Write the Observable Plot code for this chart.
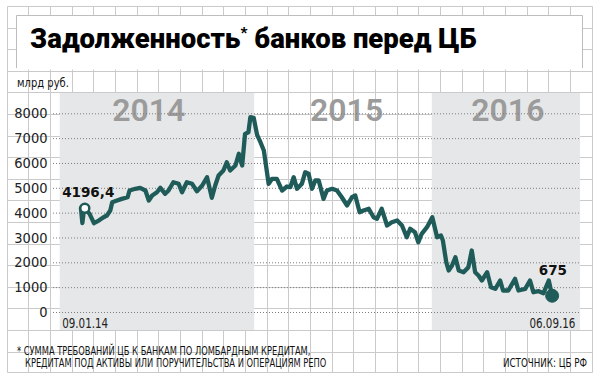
<!DOCTYPE html>
<html><head><meta charset="utf-8">
<script src="https://cdn.jsdelivr.net/npm/d3@7"></script>
<script src="https://cdn.jsdelivr.net/npm/@observablehq/plot@0.6"></script>
<style>
body{margin:0;background:#fff;}
#wrap{position:relative;width:600px;height:383px;overflow:hidden;background:#fff;}
#wrap > svg{position:absolute;left:0;top:0;}
</style>
</head><body>
<div id="wrap"></div>
<script>
// ---- data ----
const dates = ["2014-01-01","2014-01-04","2014-01-07","2014-01-09","2014-01-19","2014-01-28","2014-02-07","2014-02-17","2014-02-24","2014-03-03","2014-03-07","2014-03-17","2014-03-27","2014-04-08","2014-04-12","2014-04-24","2014-05-04","2014-05-15","2014-05-22","2014-05-29","2014-06-08","2014-06-15","2014-06-25","2014-07-02","2014-07-12","2014-07-23","2014-07-30","2014-08-09","2014-08-20","2014-08-30","2014-09-10","2014-09-16","2014-09-20","2014-09-30","2014-10-07","2014-10-14","2014-10-24","2014-10-31","2014-11-07","2014-11-18","2014-11-25","2014-12-02","2014-12-08","2014-12-15","2014-12-19","2014-12-26","2015-01-02","2015-01-09","2015-01-16","2015-01-21","2015-01-26","2015-02-02","2015-02-12","2015-02-23","2015-03-05","2015-03-12","2015-03-19","2015-03-26","2015-04-05","2015-04-12","2015-04-19","2015-04-26","2015-05-03","2015-05-10","2015-05-20","2015-05-27","2015-06-07","2015-06-17","2015-06-27","2015-07-08","2015-07-18","2015-07-25","2015-08-03","2015-08-11","2015-08-22","2015-09-01","2015-09-08","2015-09-18","2015-09-29","2015-10-09","2015-10-20","2015-10-30","2015-11-09","2015-11-16","2015-11-26","2015-12-03","2015-12-10","2015-12-21","2016-01-01","2016-01-11","2016-01-19","2016-01-23","2016-01-30","2016-02-04","2016-02-11","2016-02-18","2016-02-25","2016-03-06","2016-03-16","2016-03-23","2016-03-30","2016-04-06","2016-04-13","2016-04-24","2016-05-02","2016-05-11","2016-05-21","2016-05-27","2016-06-07","2016-06-21","2016-06-28","2016-07-12","2016-07-22","2016-07-29","2016-08-09","2016-08-19","2016-08-30","2016-09-06"];
const values = [4200,3600,4100,4196.4,3970,3595,3700,3836,3905,4106,4440,4509,4576,4641,4911,4980,5020,4911,4509,4710,4843,5020,4778,4911,5246,5181,4843,5246,5181,4883,5113,5314,5447,4618,5113,5515,5717,6051,5717,5918,6389,5918,7194,7259,7862,7838,7150,6856,6522,5850,5181,5382,5382,4911,5072,5045,5447,4980,5181,5648,5584,4980,5314,5314,4576,4911,4980,4911,4641,4307,4641,4710,4037,4106,4175,3836,3772,4175,3502,3636,3704,3502,3031,3370,3233,2830,3168,3434,3836,3031,3100,2898,2025,1691,1892,2226,1691,1622,1824,2496,1622,1490,1288,1622,1019,954,1288,886,886,1356,886,954,1288,817,857,777,1288,675];
const yTicks = [0,1000,2000,3000,4000,5000,6000,7000,8000];
const yearLabels = ["2014","2015","2016"];
const yearLabelDates = ["2014-05-22","2015-07-07","2016-06-06"];
const bandStart = ["2013-11-19","2016-01-01"];
const bandEnd = ["2014-12-28","2016-11-04"];
const startPoint = {date:"2014-01-09", value:4196.4, label:"4196,4", dateLabel:"09.01.14"};
const endPoint = {date:"2016-09-06", value:675, label:"675", dateLabel:"06.09.16"};
const titleMain = "Задолженность";
const titleStar = "*";
const titleRest = " банков перед ЦБ";
const unitLabel = "млрд руб.";
const note1 = "* СУММА ТРЕБОВАНИЙ ЦБ К БАНКАМ ПО ЛОМБАРДНЫМ КРЕДИТАМ,";
const note2 = "КРЕДИТАМ ПОД АКТИВЫ ИЛИ ПОРУЧИТЕЛЬСТВА И ОПЕРАЦИЯМ РЕПО";
const source = "ИСТОЧНИК: ЦБ РФ";

// ---- derived tables ----
const P = d3.utcParse("%Y-%m-%d");
const series = dates.map((d,i)=>({date:P(d), value:values[i]}));
const bands = bandStart.map((s,i)=>({x1:P(s), x2:P(bandEnd[i])}));
const years = yearLabels.map((t,i)=>({x:P(yearLabelDates[i]), text:t}));
const sp = {...startPoint, date:P(startPoint.date)};
const ep = {...endPoint, date:P(endPoint.date)};

const teal = "#1f5b59";
const narrow = "'Liberation Sans Narrow','DejaVu Sans Condensed','Roboto Condensed',Roboto,sans-serif";
const W = 600, H = 383;
const wrap = document.getElementById("wrap");

// ---- background: graph paper, title box, texts ----
const bg = d3.create("svg").attr("width",W).attr("height",H);
wrap.appendChild(bg.node());
const gridColor = "#cacaca";
for (let k=0;k<=27;k++){
  const x = Math.round(6.7 + k*21.67)+0.5;
  bg.append("line").attr("x1",x).attr("x2",x).attr("y1",6.5).attr("y2",372.5).attr("stroke",gridColor);
}
for (let k=0;k<=17;k++){
  const y = Math.round(Math.min(6 + k*21.6, 372))+0.5;
  bg.append("line").attr("x1",7.5).attr("x2",592.5).attr("y1",y).attr("y2",y).attr("stroke",gridColor);
}
bg.append("rect").attr("x",16.5).attr("y",15.5).attr("width",566).attr("height",54).attr("fill","#fff");
bg.append("path").attr("d","M16.5,68V15.5H582.5V68").attr("fill","none").attr("stroke","#bdbdbd");
const t = bg.append("text").attr("x",30).attr("y",48)
  .attr("font-family","Roboto, 'Open Sans', sans-serif").attr("font-weight",900).attr("font-size",27.5).attr("fill","#000");
t.append("tspan").text(titleMain);
t.append("tspan").attr("font-size",15).attr("dy",-10).text(titleStar);
t.append("tspan").attr("dy",10).text(titleRest);
// condensed text: natural text squeezed horizontally to the reference width
function ctext(x, y, str, len, size, anchor){
  const el = bg.append("text").attr("font-family",narrow).attr("font-size",size).attr("fill","#111").text(str);
  const nat = el.node().getComputedTextLength();
  const s = Math.min(1, len/nat);
  const x0 = anchor === "end" ? x - len : x;
  el.attr("transform",`translate(${x0},${y}) scale(${s},1)`);
}
ctext(17, 87, unitLabel, 52, 13);
ctext(17, 354.5, note1, 294, 11.5);
ctext(25, 367, note2, 302, 11.5);
ctext(587, 367, source, 84, 11.5, "end");

// ---- chart ----
const chart = Plot.plot({
  width: W, height: H,
  marginTop: 93, marginBottom: 53, marginLeft: 53, marginRight: 19,
  style: {background:"transparent", fontFamily: narrow, fontSize:"14.5px", color:"#222", overflow:"visible"},
  x: {type:"utc", domain:[P("2013-11-05"), P("2016-11-06")], axis:null},
  y: {domain:[0,8000], range:[312,113.3], ticks:yTicks, tickSize:0, tickPadding:6, tickFormat:d=>String(d), label:null},
  marks: [
    Plot.rect(bands, {x1:"x1", x2:"x2", fill:"#e6e7e8"}),
    Plot.text(years, {x:"x", text:"text", frameAnchor:"top", lineAnchor:"bottom", dy:27, fontSize:32, fontWeight:600, fill:"#9b9b9b", fontFamily:"Roboto, sans-serif"}),
    Plot.ruleY(yTicks, {stroke:"#7d7d7d", strokeDasharray:"1,2", strokeWidth:1}),
    Plot.line(series, {x:"date", y:"value", stroke:teal, strokeWidth:4.3, strokeLinejoin:"round", strokeLinecap:"round"}),
    Plot.dot([sp], {x:"date", y:"value", r:4.5, fill:"#fff", stroke:teal, strokeWidth:2.5}),
    Plot.dot([ep], {x:"date", y:"value", r:6.5, fill:teal, stroke:teal, strokeWidth:1}),
    Plot.text([sp], {x:"date", y:"value", text:"label", textAnchor:"start", lineAnchor:"bottom", dx:-22.6, dy:-11, fontSize:13.5, fontWeight:"bold", fontFamily:"'DejaVu Sans', sans-serif", fill:"#111"}),
    Plot.text([ep], {x:"date", y:"value", text:"label", textAnchor:"start", lineAnchor:"bottom", dx:-13.4, dy:-21, fontSize:13.5, fontWeight:"bold", fontFamily:"'DejaVu Sans', sans-serif", fill:"#111"}),
    Plot.text([sp], {x:"date", y:()=>0, text:"dateLabel", textAnchor:"start", lineAnchor:"bottom", dx:-22.6, dy:15.5, fontSize:14, fill:"#222", className:"datelab"}),
    Plot.text([ep], {x:"date", y:()=>0, text:"dateLabel", textAnchor:"end", lineAnchor:"bottom", dx:23.3, dy:15, fontSize:14, fill:"#222", className:"datelab"})
  ]
});
d3.select(chart).selectAll(".datelab text").attr("textLength",46).attr("lengthAdjust","spacingAndGlyphs");
wrap.appendChild(chart);
</script>
</body></html>
